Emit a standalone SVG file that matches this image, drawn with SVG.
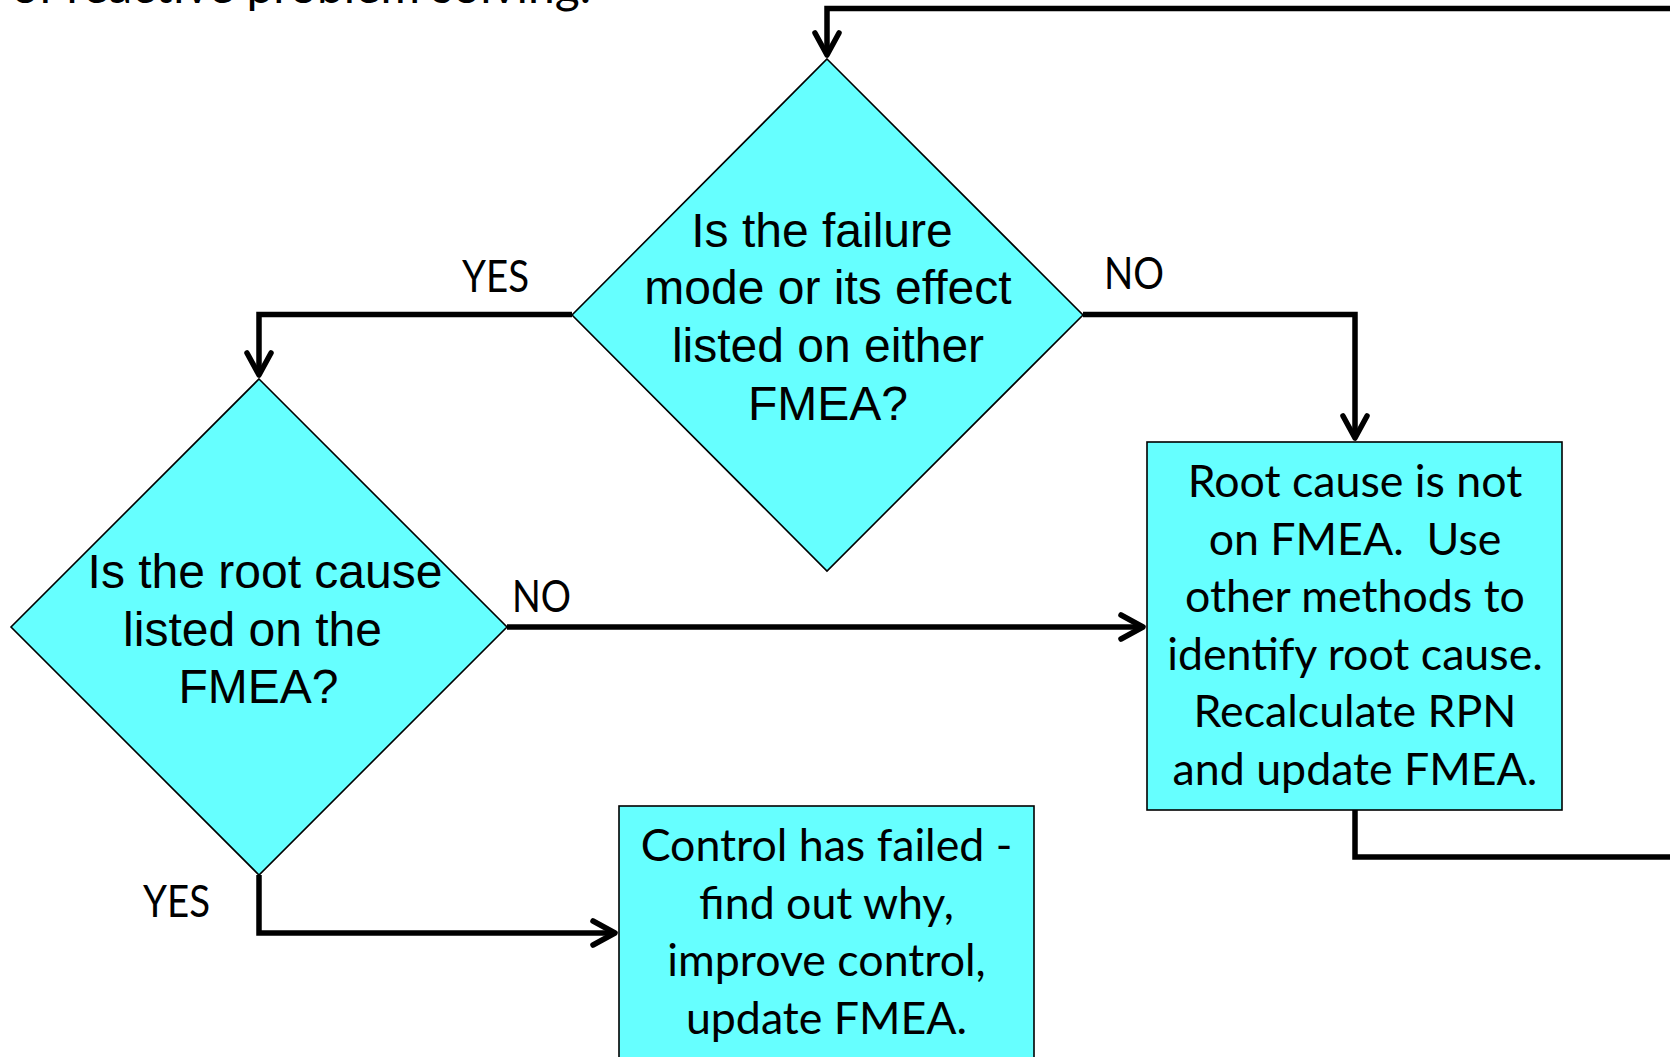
<svg xmlns="http://www.w3.org/2000/svg" width="1670" height="1057" viewBox="0 0 1670 1057">
<style>
.node{fill:#66FFFF;stroke:#000;stroke-width:1.6}
.conn{fill:none;stroke:#000;stroke-width:5.5;stroke-linejoin:miter}
.qt{font-family:"Liberation Sans",Arial,sans-serif;font-size:48px;fill:#000;text-anchor:middle}
.bt{font-family:Lato,"Open Sans",sans-serif;font-size:44.7px;fill:#000;text-anchor:middle}
.lbl{font-family:Lato,"Open Sans",sans-serif;font-size:44px;fill:#000;text-anchor:middle}
.hdr{font-family:Lato,"Open Sans",sans-serif;font-size:48px;fill:#000;text-anchor:end}
</style>
<defs>
<marker id="arr" markerUnits="userSpaceOnUse" viewBox="-30 -16 34 32" refX="0" refY="0" markerWidth="34" markerHeight="32" orient="auto" overflow="visible">
<path d="M -22 -12 L 0 0 L -22 12" fill="none" stroke="#000" stroke-width="5.5" stroke-linecap="round" stroke-linejoin="round"/>
</marker>
</defs>
<rect width="1670" height="1057" fill="#fff"/>
<text class="hdr" x="591" y="3">of reactive problem solving.</text>
<g id="connectors">
<path class="conn" d="M1355 810 V857 H1700 V8.5 H827 V55" marker-end="url(#arr)"/>
<path class="conn" d="M572 314.5 H259 V375" marker-end="url(#arr)"/>
<path class="conn" d="M1083 314.5 H1355 V438" marker-end="url(#arr)"/>
<path class="conn" d="M507 627 H1143" marker-end="url(#arr)"/>
<path class="conn" d="M259 875 V933 H615" marker-end="url(#arr)"/>
</g>
<g id="q1">
<polygon class="node" points="827,59 1083,315 827,571 572,315"/>
<text class="qt"><tspan x="822" y="246.5">Is the failure</tspan><tspan x="828" y="304">mode or its effect</tspan><tspan x="828" y="362">listed on either</tspan><tspan x="828" y="419.5">FMEA?</tspan></text>
</g>
<g id="q2">
<polygon class="node" points="259,379 507,627 259,875 11,627"/>
<text class="qt"><tspan x="265" y="588">Is the root cause</tspan><tspan x="252.5" y="645.5">listed on the</tspan><tspan x="258.5" y="703">FMEA?</tspan></text>
</g>
<g id="r1">
<rect class="node" x="1147" y="442" width="415" height="368"/>
<text class="bt"><tspan x="1355" y="497">Root cause is not</tspan><tspan x="1355" y="554.5">on FMEA.&#160; Use</tspan><tspan x="1355" y="612">other methods to</tspan><tspan x="1355" y="669.5">identify root cause.</tspan><tspan x="1355" y="727">Recalculate RPN</tspan><tspan x="1355" y="784.5">and update FMEA.</tspan></text>
</g>
<g id="r2">
<rect class="node" x="619" y="806" width="415" height="270"/>
<text class="bt"><tspan x="826.5" y="861">Control has failed -</tspan><tspan x="826.5" y="918.5">find out why,</tspan><tspan x="826.5" y="976">improve control,</tspan><tspan x="826.5" y="1033.5">update FMEA.</tspan></text>
</g>
<g id="labels">
<text class="lbl" x="495.5" y="292" textLength="67" lengthAdjust="spacingAndGlyphs">YES</text>
<text class="lbl" x="1134" y="289" textLength="60" lengthAdjust="spacingAndGlyphs">NO</text>
<text class="lbl" x="541.5" y="612" textLength="59" lengthAdjust="spacingAndGlyphs">NO</text>
<text class="lbl" x="176.5" y="917" textLength="67" lengthAdjust="spacingAndGlyphs">YES</text>
</g>
</svg>
